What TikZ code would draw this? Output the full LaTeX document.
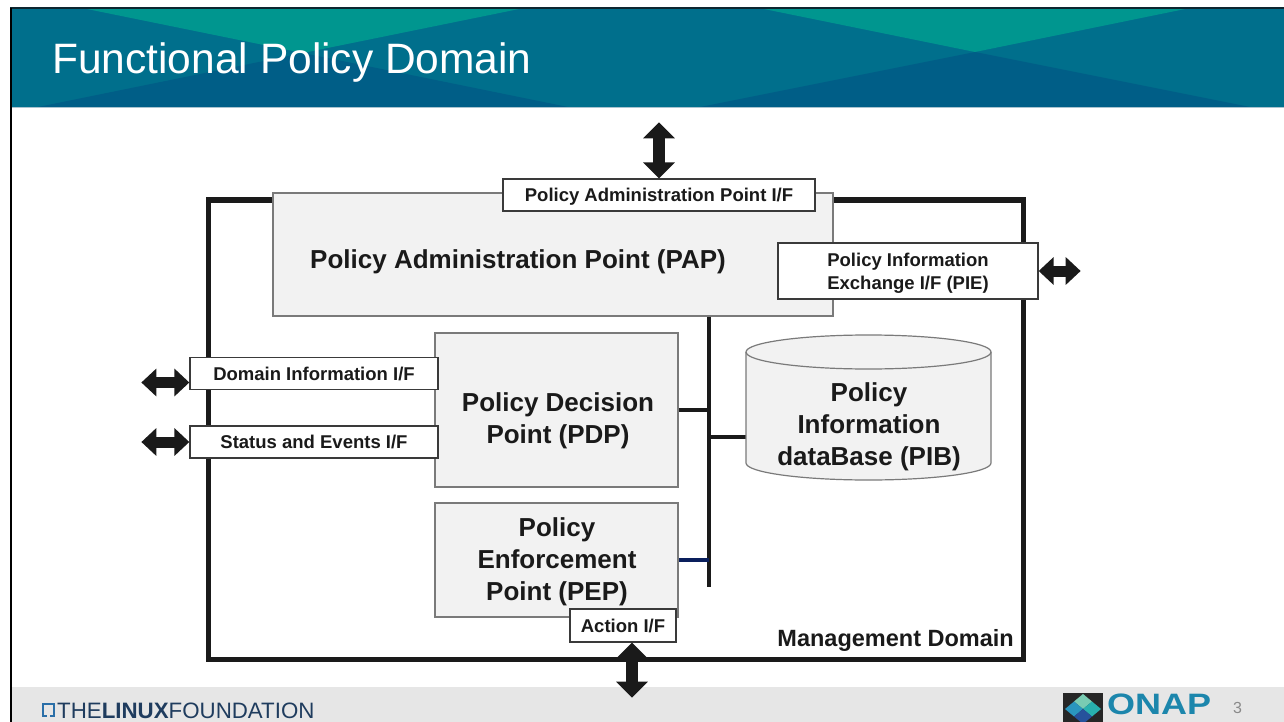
\documentclass[tikz,border=0pt]{standalone}
\usepackage{fontspec}
\setmainfont{Liberation Sans}
\usetikzlibrary{arrows.meta,calc}
\definecolor{hdmid}{HTML}{006F8C}
\definecolor{hdlight}{HTML}{00968F}
\definecolor{hddark}{HTML}{005E87}
\definecolor{hdedge}{HTML}{A9C3CF}
\definecolor{hdtop}{HTML}{0D2630}
\definecolor{ink}{HTML}{1A1A1A}
\definecolor{boxfill}{HTML}{F2F2F2}
\definecolor{boxline}{HTML}{7A7A7A}
\definecolor{ifline}{HTML}{3A3A3A}
\definecolor{navy}{HTML}{0A1F5C}
\definecolor{footgray}{HTML}{E6E6E6}
\definecolor{lfblue}{HTML}{1F3C5E}
\definecolor{lficon}{HTML}{2A6FA8}
\definecolor{onapblue}{HTML}{1C86AC}
\definecolor{pagenum}{HTML}{8A8A8A}
\definecolor{gemA}{HTML}{79CCB3}
\definecolor{gemB}{HTML}{2A96BE}
\definecolor{gemC}{HTML}{28B0AE}
\definecolor{gemD}{HTML}{26529C}
\begin{document}
\begin{tikzpicture}[x=1pt,y=-1pt,
  bigbox/.style={draw=boxline, fill=boxfill, line width=1.2pt, inner sep=0pt},
  ifbox/.style={draw=ifline, fill=white, line width=1.3pt, inner sep=0pt, text depth=0pt,
    font=\fontsize{18.5}{23}\selectfont\bfseries, text=ink, align=center},
  bigtext/.style={font=\fontsize{26}{32}\selectfont\bfseries, text=ink, align=center, inner sep=0pt},
  bus/.style={line width=4pt, draw=ink},
  harrow/.style={draw=ink, line width=11pt,
    {Triangle[width=27pt,length=15pt]}-{Triangle[width=27pt,length=15pt]}},
  varrow/.style={draw=ink, line width=12pt,
    {Triangle[width=31pt,length=16pt]}-{Triangle[width=31pt,length=16pt]}}
]
\fill[white] (0,0) rectangle (1284,722);
\useasboundingbox (0,0) rectangle (1284,722);

% header band
\fill[hdmid] (10,8) rectangle (1284,107);
\fill[hdlight] (82,8) -- (524,8) -- (303,53) -- cycle;
\fill[hddark] (38,107) -- (568,107) -- (303,53) -- cycle;
\fill[hdlight] (759,8) -- (1190,8) -- (975,52) -- cycle;
\fill[hddark] (700,107) -- (1250,107) -- (975,52) -- cycle;
\draw[hdtop, line width=2pt] (10,8) -- (1284,8);
\draw[hdedge, line width=1.5pt] (10,107.5) -- (1284,107.5);
\node[anchor=base west, text=white, font=\fontsize{42.5}{50}\selectfont, inner sep=0pt] (title) at (52,74) {Functional Policy Domain};

% footer
\fill[footgray] (11,687) rectangle (1284,722);
\draw[black, line width=2pt] (11,8) -- (11,722);
\draw[lficon, line width=2.6pt] (47,716) -- (43,716) -- (43,704) -- (54,704) -- (54,716) -- (50,716);
\node[anchor=base west, font=\fontsize{22.3}{26}\selectfont, text=lfblue, inner sep=0pt] (lf) at (57,718) {THE\textbf{LINUX}FOUNDATION};
\fill[black!85] (1063,693) rectangle (1103,722);
\fill[gemA] (1083,694) -- (1092,701.5) -- (1083,709) -- (1074,701.5) -- cycle;
\fill[gemB] (1074,701.5) -- (1083,709) -- (1074,716.5) -- (1065,709) -- cycle;
\fill[gemC] (1092,701.5) -- (1101,709) -- (1092,716.5) -- (1083,709) -- cycle;
\fill[gemD] (1083,709) -- (1092,716.5) -- (1083,724) -- (1074,716.5) -- cycle;
\node[anchor=base west, font=\fontsize{29.5}{32}\selectfont\bfseries, text=onapblue, inner sep=0pt] (onap) at (1107,714) {\scalebox{1.22}[1]{ONAP}};
\node[anchor=base west, font=\fontsize{16}{18}\selectfont, text=pagenum, inner sep=0pt] (pnum) at (1233,713) {3};

% management domain frame
\draw[ink, line width=5pt] (208,200) rectangle (1023,659);
\node[anchor=east, font=\fontsize{23.5}{26}\selectfont\bfseries, text=ink, inner sep=0pt] (mgmt) at (1014,640) {Management Domain};

% boxes
\node[bigbox, minimum width=560pt, minimum height=123pt] (pap) at (553,254.5) {};
\node[bigtext] (paplabel) at (518,262) {Policy Administration Point (PAP)};
\node[bigbox, minimum width=243pt, minimum height=154pt] (pdp) at (556.5,410) {};
\node[bigtext] (pdplabel) at (558,421) {Policy Decision\\Point (PDP)};
\node[bigbox, minimum width=243pt, minimum height=114pt] (pep) at (556.5,560) {};
\node[bigtext] (peplabel) at (557,562) {Policy\\Enforcement\\Point (PEP)};

% bus and connectors
\coordinate (busbot) at (709,587);
\coordinate (pibl) at (746,437);
\draw[bus] (pap.south -| busbot) -- (busbot);
\draw[bus] (pdp.east) -- (pdp.east -| busbot);
\draw[bus] (pibl -| busbot) -- (pibl);
\draw[bus, draw=navy] (pep.east) -- (pep.east -| busbot);

% PIB cylinder
\path[fill=boxfill, draw=boxline, line width=1.2pt]
  (746,352) -- (746,463) arc[start angle=180, end angle=360, x radius=122.5pt, y radius=17pt]
  -- (991,352) arc[start angle=0, end angle=180, x radius=122.5pt, y radius=17pt] -- cycle;
\draw[boxline, line width=1.2pt] (746,352) arc[start angle=180, end angle=360, x radius=122.5pt, y radius=17pt];
\node[bigtext] (pib) at (869,427) {Policy\\Information\\dataBase (PIB)};

% interface boxes
\node[ifbox, minimum width=312pt, minimum height=32pt] (pif) at (659,195) {Policy Administration Point I/F};
\node[ifbox, minimum width=260pt, minimum height=56pt] (pie) at (908,271) {Policy Information\\Exchange I/F (PIE)};
\node[ifbox, minimum width=248pt, minimum height=32pt] (dif) at (314,373.5) {Domain Information I/F};
\node[ifbox, minimum width=248pt, minimum height=32pt] (sif) at (314,442) {Status and Events I/F};
\node[ifbox, minimum width=106pt, minimum height=33pt] (act) at (623,625.5) {Action I/F};

% external arrows
\coordinate (papout) at ([yshift=56pt]pif.north);
\draw[varrow] (papout) -- (pif.north);
\coordinate (pieout) at ([xshift=42pt]pie.east);
\draw[harrow] (pie.east) -- (pieout);
\coordinate (difout) at ([xshift=-48pt,yshift=-9pt]dif.west);
\draw[harrow] (difout) -- ([yshift=-9pt]dif.west);
\coordinate (sifout) at ([xshift=-48pt]sif.west);
\draw[harrow] (sifout) -- (sif.west);
\coordinate (actout) at ([xshift=9pt,yshift=-55pt]act.south);
\draw[varrow] ([xshift=9pt]act.south) -- (actout);
\end{tikzpicture}
\end{document}
